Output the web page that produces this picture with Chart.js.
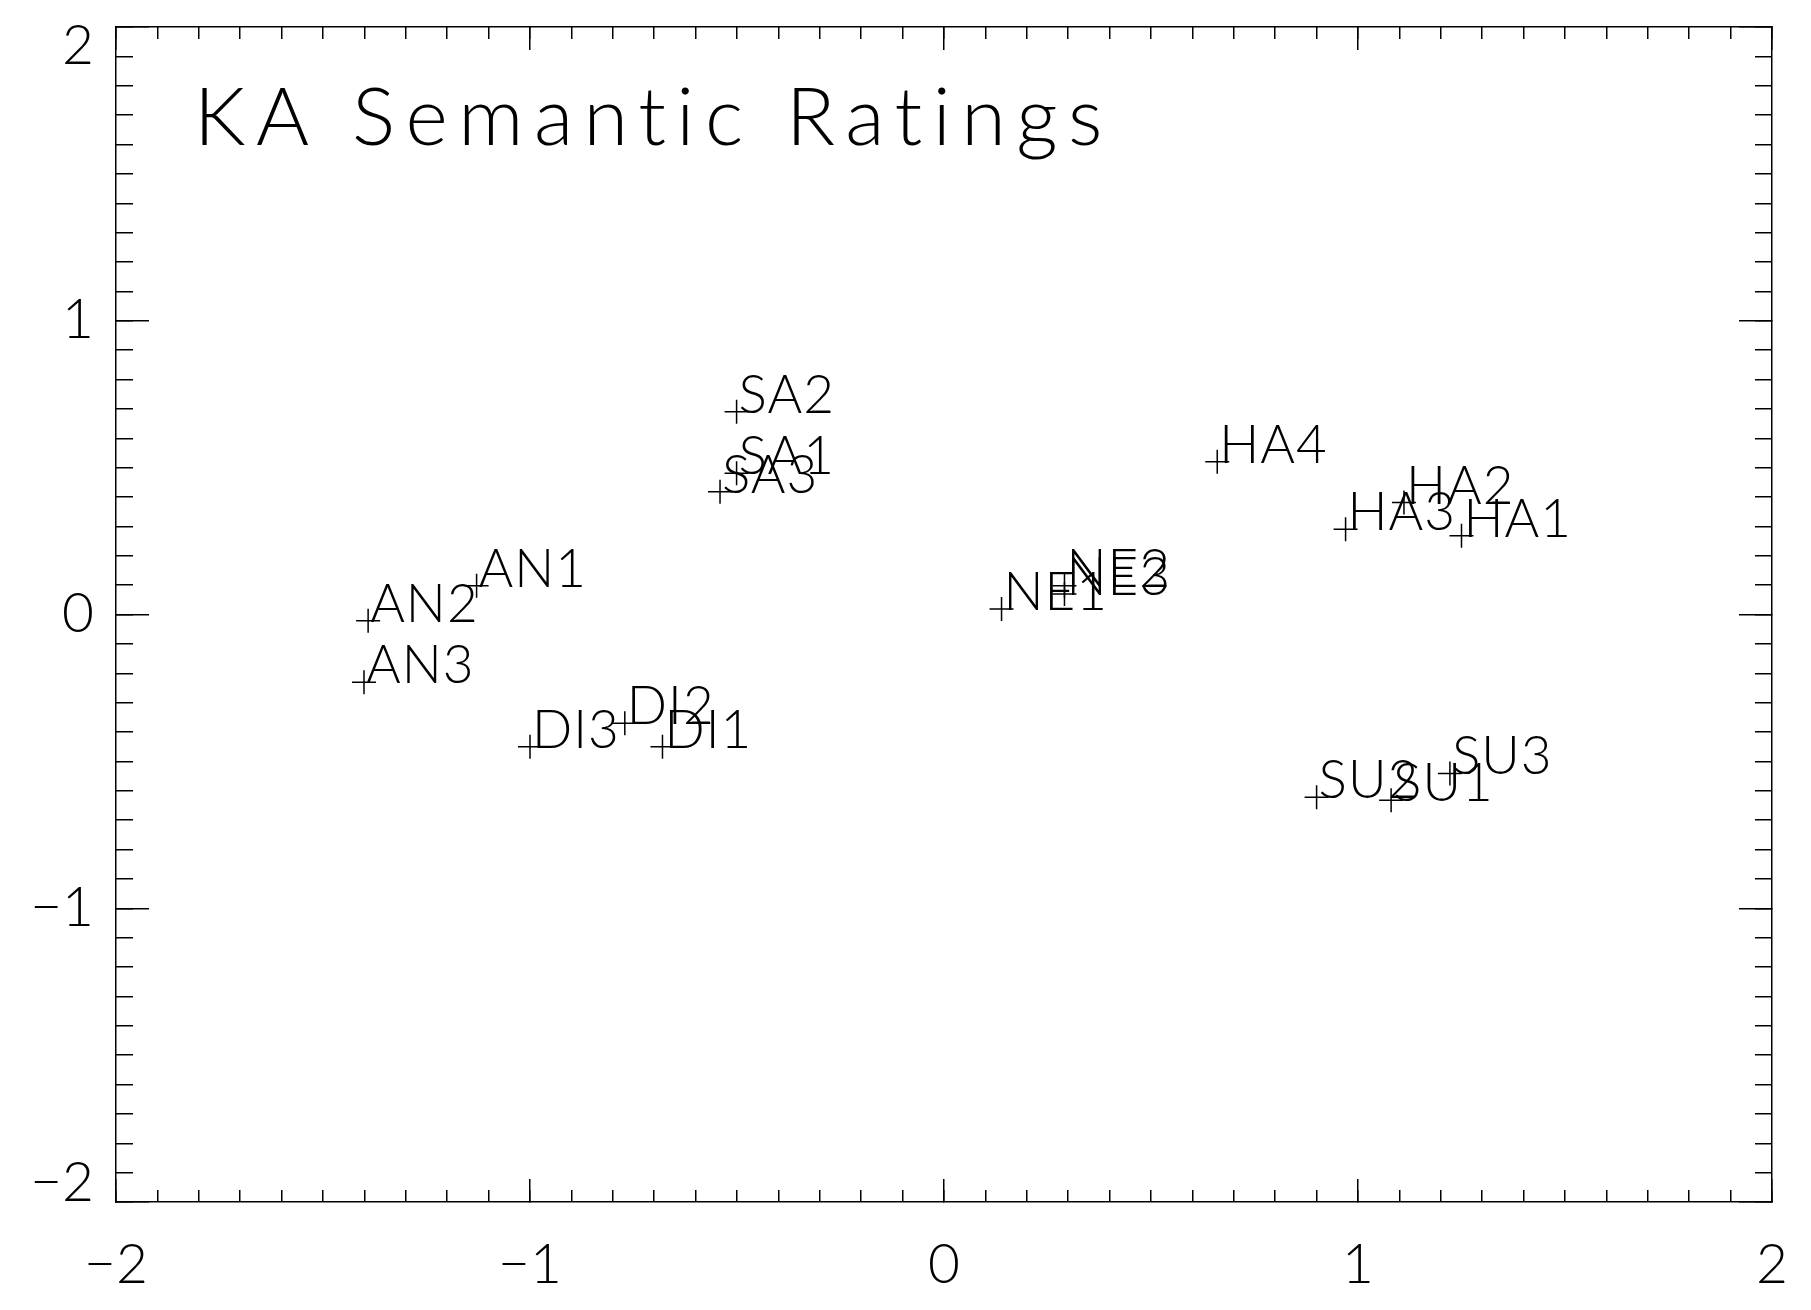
<!DOCTYPE html>
<html>
<head>
<meta charset="utf-8">
<title>KA Semantic Ratings</title>
<script src="https://cdn.jsdelivr.net/npm/chart.js@4.4.1/dist/chart.umd.min.js"></script>
<style>
  html, body { margin: 0; padding: 0; background: #fff; }
  #wrap { width: 1811px; height: 1310px; }
</style>
</head>
<body>
<div id="wrap"><canvas id="plot"></canvas></div>
<script>
// point names and coordinates
const names = ["SA2", "SA1", "SA3", "AN1", "AN2", "AN3", "DI3", "DI2", "DI1",
               "NE1", "NE2", "NE3", "HA4", "HA2", "HA3", "HA1", "SU2", "SU1", "SU3"];
const xs = [-0.501, -0.501, -0.541, -1.129, -1.391, -1.401, -1.000, -0.771, -0.680,
            0.139, 0.291, 0.291, 0.660, 1.111, 0.970, 1.250, 0.900, 1.080, 1.222];
const ys = [0.690, 0.481, 0.418, 0.098, -0.021, -0.231, -0.450, -0.370, -0.450,
            0.019, 0.098, 0.070, 0.520, 0.381, 0.290, 0.268, -0.622, -0.632, -0.541];

const xTickLabels = ["\u22122", "\u22121", "0", "1", "2"];
const yTickLabels = ["\u22122", "\u22121", "0", "1", "2"];
const titleText = "KA Semantic Ratings";

const FONT = "Lato, 'DejaVu Sans', sans-serif";
const INK = "#000";

// all four sides: a major axis (step 1) and a minor one (step 0.1), ticks inward
function axis(pos, step, tickLen, weight, extra) {
  const horiz = pos === "top" || pos === "bottom";
  return Object.assign({
    type: "linear",
    position: pos,
    min: -2, max: 2,
    weight: weight,
    border: { display: weight === 1, color: INK, width: 1.5 },
    grid: { drawOnChartArea: false, drawTicks: true, tickLength: tickLen, color: INK, lineWidth: 1.5 },
    ticks: { display: false, stepSize: step, maxTicksLimit: 100, autoSkip: false },
    afterFit(s) {
      if (horiz) s.height = 0; else s.width = 0;
      s.paddingLeft = 0; s.paddingRight = 0; s.paddingTop = 0; s.paddingBottom = 0;
    }
  }, extra || {});
}

const scales = {
  x: axis("bottom", 1, -23, 1, {
    ticks: {
      display: true, stepSize: 1, autoSkip: false, maxRotation: 0, padding: 53,
      color: INK, font: { family: FONT, size: 55, weight: 300, lineHeight: 1.2 },
      callback: (v, i) => xTickLabels[i]
    },
    afterFit(s) {
      s.height = 1310 - 1202;
      s.paddingLeft = 0; s.paddingRight = 0;
    }
  }),
  xm: axis("bottom", 0.1, -12, 0),
  y: axis("left", 1, -33, 1, {
    ticks: {
      display: true, stepSize: 1, autoSkip: false, padding: 55,
      color: INK, font: { family: FONT, size: 55, weight: 300, lineHeight: "38px" },
      // end labels sit inside the frame, as in the original
      callback: (v, i) => i === 0 ? [yTickLabels[i], ""] : i === yTickLabels.length - 1 ? ["", yTickLabels[i]] : yTickLabels[i]
    },
    afterFit(s) {
      s.width = 116;
      s.paddingTop = 0; s.paddingBottom = 0;
    }
  }),
  ym: axis("left", 0.1, -17, 0),
  xt: axis("top", 1, -23, 1),
  xtm: axis("top", 0.1, -12, 0),
  yr: axis("right", 1, -33, 1),
  yrm: axis("right", 0.1, -17, 0)
};

// text labels next to each plus, and the title inside the frame
const labelPlugin = {
  id: "pointLabels",
  afterDatasetsDraw(chart) {
    const ctx = chart.ctx;
    const meta = chart.getDatasetMeta(0);
    const spacing = "letterSpacing" in ctx;
    ctx.save();
    ctx.fillStyle = INK;
    ctx.font = "300 53px " + FONT;
    ctx.textAlign = "left";
    ctx.textBaseline = "alphabetic";
    if (spacing) ctx.letterSpacing = "1px";
    meta.data.forEach((pt, i) => {
      ctx.fillText(names[i], pt.x + 2, pt.y + 1);
    });
    const a = chart.chartArea;
    ctx.font = "300 81px " + FONT;
    if (spacing) ctx.letterSpacing = "10.5px";
    ctx.fillText(titleText, a.left + 78, a.top + 118);
    ctx.restore();
  }
};

new Chart(document.getElementById("plot"), {
  type: "scatter",
  data: {
    datasets: [{
      data: xs.map((x, i) => ({ x: x, y: ys[i] })),
      pointStyle: "cross",
      pointRadius: 12,
      pointHoverRadius: 12,
      borderColor: INK,
      backgroundColor: INK,
      borderWidth: 1.5,
      xAxisID: "x",
      yAxisID: "y"
    }]
  },
  options: {
    responsive: true,
    maintainAspectRatio: false,
    animation: false,
    events: [],
    layout: { padding: { top: 27, right: 39, bottom: 0, left: 0 } },
    plugins: { legend: { display: false }, tooltip: { enabled: false }, title: { display: false } },
    scales: scales
  },
  plugins: [labelPlugin]
});
</script>
</body>
</html>
